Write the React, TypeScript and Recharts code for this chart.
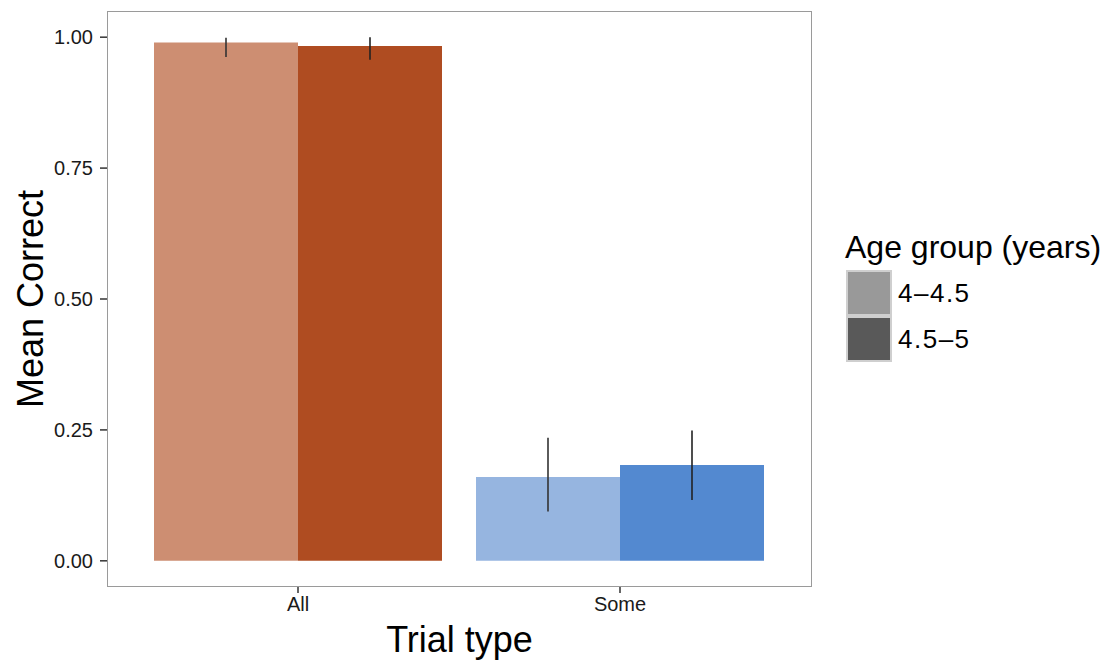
import { BarChart, Bar, XAxis, YAxis, Cell, ErrorBar, Label, Legend } from "recharts";

const FONT = "'Liberation Sans', Arial, Helvetica, sans-serif";

// trial types on the x axis
const categories = ["All", "Some"];

// mean proportion correct, by age group
const youngMeans = [0.99, 0.16];
const oldMeans = [0.983, 0.183];

// error bar ends (low / high)
const youngLow = [0.962, 0.094];
const youngHigh = [0.999, 0.235];
const oldLow = [0.957, 0.116];
const oldHigh = [1.0, 0.249];

const yTicks = [0, 0.25, 0.5, 0.75, 1];

// fills per trial type: [4-4.5, 4.5-5]
const youngColors = ["#CD8E72", "#96B5E0"];
const oldColors = ["#AF4C21", "#5389D0"];

const legendItems = [
  { label: "4–4.5", color: "#999999" },
  { label: "4.5–5", color: "#595959" },
];

const data = categories.map((name, i) => ({
  name,
  young: youngMeans[i],
  old: oldMeans[i],
  youngErr: [youngMeans[i] - youngLow[i], youngHigh[i] - youngMeans[i]],
  oldErr: [oldMeans[i] - oldLow[i], oldHigh[i] - oldMeans[i]],
}));

const renderYTitle = (props: any) => {
  const vb = props.viewBox || { x: 0, y: 11, height: 576 };
  const x = vb.x + 43;
  const y = vb.y + vb.height / 2;
  return (
    <text
      x={x}
      y={y}
      transform={`rotate(-90 ${x} ${y})`}
      textAnchor="middle"
      fontSize={36}
      fontFamily={FONT}
      fill="#000"
    >
      Mean Correct
    </text>
  );
};

const renderXTitle = (props: any) => {
  const vb = props.viewBox || { x: 107, y: 587, width: 705 };
  return (
    <text
      x={vb.x + vb.width / 2}
      y={vb.y + 65}
      textAnchor="middle"
      fontSize={36}
      fontFamily={FONT}
      fill="#000"
    >
      Trial type
    </text>
  );
};

const renderLegend = () => (
  <div style={{ fontFamily: FONT, color: "#000" }}>
    <div style={{ fontSize: 32, lineHeight: "32px", marginBottom: 7, whiteSpace: "nowrap" }}>
      Age group (years)
    </div>
    {legendItems.map((it) => (
      <div key={it.label} style={{ display: "flex", alignItems: "center", height: 46 }}>
        <div
          style={{
            width: 46,
            height: 46,
            marginLeft: 1,
            boxSizing: "border-box",
            border: "2px solid #cfcfcf",
            background: it.color,
          }}
        />
        <span style={{ fontSize: 26, marginLeft: 6, letterSpacing: 1.5 }}>{it.label}</span>
      </div>
    ))}
  </div>
);

export default function App() {
  return (
    <div style={{ position: "absolute", left: 0, top: 0, width: 1109, height: 666, background: "#fff" }}>
      <BarChart
        width={1109}
        height={666}
        data={data}
        margin={{ top: 11, right: 297, bottom: 0, left: 0 }}
        barGap={0}
        barCategoryGap={17}
      >
        <XAxis
          dataKey="name"
          height={79}
          padding={{ left: 30, right: 31 }}
          axisLine={false}
          tickSize={6}
          tickMargin={4}
          tickLine={{ stroke: "#333", strokeWidth: 1.5 }}
          tick={{ fontSize: 20, fill: "#1a1a1a", fontFamily: FONT }}
        >
          <Label content={renderXTitle} />
        </XAxis>
        <YAxis
          type="number"
          width={107}
          domain={[-0.05, 1.05]}
          ticks={yTicks}
          tickFormatter={(v: number) => v.toFixed(2)}
          axisLine={false}
          tickSize={7}
          tickMargin={7}
          tickLine={{ stroke: "#333", strokeWidth: 1.5 }}
          tick={{ fontSize: 20, fill: "#1a1a1a", fontFamily: FONT }}
        >
          <Label content={renderYTitle} />
        </YAxis>
        <Legend
          layout="horizontal"
          verticalAlign="middle"
          align="center"
          content={renderLegend}
          wrapperStyle={{ left: 845, top: 231, width: 262 }}
        />
        <Bar dataKey="young" fill="#999999" isAnimationActive={false}>
          {data.map((d, i) => (
            <Cell key={d.name} fill={youngColors[i]} />
          ))}
          <ErrorBar dataKey="youngErr" width={0} stroke="#333" strokeWidth={1.6} />
        </Bar>
        <Bar dataKey="old" fill="#595959" isAnimationActive={false}>
          {data.map((d, i) => (
            <Cell key={d.name} fill={oldColors[i]} />
          ))}
          <ErrorBar dataKey="oldErr" width={0} stroke="#222" strokeWidth={1.6} />
        </Bar>
      </BarChart>
      <div
        style={{
          position: "absolute",
          left: 107,
          top: 11,
          width: 705,
          height: 576,
          boxSizing: "border-box",
          border: "1.5px solid #9a9a9a",
          pointerEvents: "none",
        }}
      />
    </div>
  );
}
